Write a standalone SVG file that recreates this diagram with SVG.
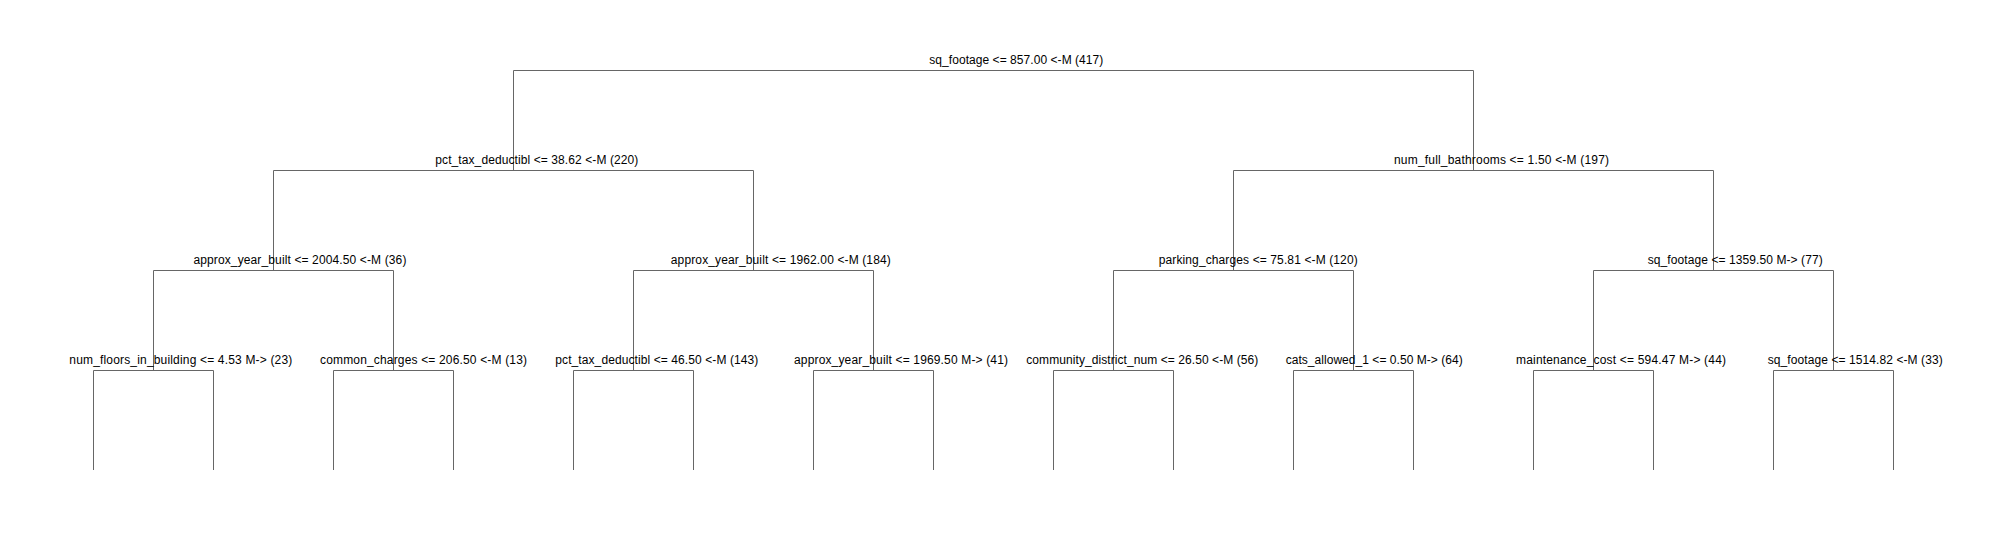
<svg xmlns="http://www.w3.org/2000/svg" width="2011" height="540" viewBox="0 0 2011 540">
<style>
.lbl{font-family:"Liberation Sans",Arial,sans-serif;font-size:12px;fill:#000}
.edge{fill:none;stroke:#666666;stroke-width:1}
</style>
<rect width="2011" height="540" fill="#fff"/>
<g id="connectors">
<path class="edge" d="M513.5 170.5 V70.5 H1473.5 V170.5"/>
<path class="edge" d="M273.5 270.5 V170.5 H753.5 V270.5"/>
<path class="edge" d="M1233.5 270.5 V170.5 H1713.5 V270.5"/>
<path class="edge" d="M153.5 370.5 V270.5 H393.5 V370.5"/>
<path class="edge" d="M633.5 370.5 V270.5 H873.5 V370.5"/>
<path class="edge" d="M1113.5 370.5 V270.5 H1353.5 V370.5"/>
<path class="edge" d="M1593.5 370.5 V270.5 H1833.5 V370.5"/>
<path class="edge" d="M93.5 470 V370.5 H213.5 V470"/>
<path class="edge" d="M333.5 470 V370.5 H453.5 V470"/>
<path class="edge" d="M573.5 470 V370.5 H693.5 V470"/>
<path class="edge" d="M813.5 470 V370.5 H933.5 V470"/>
<path class="edge" d="M1053.5 470 V370.5 H1173.5 V470"/>
<path class="edge" d="M1293.5 470 V370.5 H1413.5 V470"/>
<path class="edge" d="M1533.5 470 V370.5 H1653.5 V470"/>
<path class="edge" d="M1773.5 470 V370.5 H1893.5 V470"/>
</g>
<g id="n0"><text class="lbl" x="929.3" y="64" textLength="174">sq_footage &lt;= 857.00 &lt;-M (417)</text></g>
<g id="n1"><text class="lbl" x="435.3" y="164" textLength="203">pct_tax_deductibl &lt;= 38.62 &lt;-M (220)</text></g>
<g id="n2"><text class="lbl" x="1394" y="164" textLength="215">num_full_bathrooms &lt;= 1.50 &lt;-M (197)</text></g>
<g id="n3"><text class="lbl" x="193.4" y="264" textLength="213">approx_year_built &lt;= 2004.50 &lt;-M (36)</text></g>
<g id="n4"><text class="lbl" x="670.8" y="264" textLength="220">approx_year_built &lt;= 1962.00 &lt;-M (184)</text></g>
<g id="n5"><text class="lbl" x="1158.7" y="264" textLength="199">parking_charges &lt;= 75.81 &lt;-M (120)</text></g>
<g id="n6"><text class="lbl" x="1647.7" y="264" textLength="175">sq_footage &lt;= 1359.50 M-&gt; (77)</text></g>
<g id="n7"><text class="lbl" x="69.3" y="364" textLength="223">num_floors_in_building &lt;= 4.53 M-&gt; (23)</text></g>
<g id="n8"><text class="lbl" x="320" y="364" textLength="207">common_charges &lt;= 206.50 &lt;-M (13)</text></g>
<g id="n9"><text class="lbl" x="555.3" y="364" textLength="203">pct_tax_deductibl &lt;= 46.50 &lt;-M (143)</text></g>
<g id="n10"><text class="lbl" x="794" y="364" textLength="214">approx_year_built &lt;= 1969.50 M-&gt; (41)</text></g>
<g id="n11"><text class="lbl" x="1026.3" y="364" textLength="232">community_district_num &lt;= 26.50 &lt;-M (56)</text></g>
<g id="n12"><text class="lbl" x="1285.7" y="364" textLength="177">cats_allowed_1 &lt;= 0.50 M-&gt; (64)</text></g>
<g id="n13"><text class="lbl" x="1516" y="364" textLength="210">maintenance_cost &lt;= 594.47 M-&gt; (44)</text></g>
<g id="n14"><text class="lbl" x="1767.7" y="364" textLength="175">sq_footage &lt;= 1514.82 &lt;-M (33)</text></g>
</svg>
